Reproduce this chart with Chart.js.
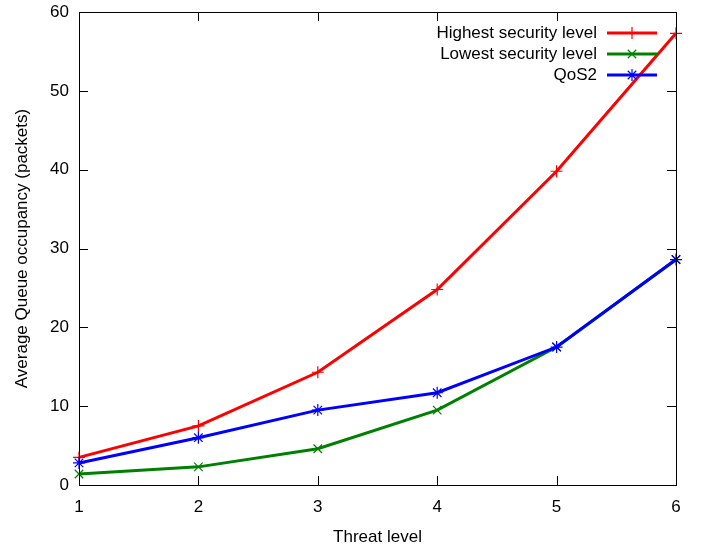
<!DOCTYPE html>
<html>
<head>
<meta charset="utf-8">
<script src="https://cdn.jsdelivr.net/npm/chart.js@4"></script>
<style>
  body { margin: 0; background: #fff; }
  #wrap { width: 702px; height: 548px; }
</style>
</head>
<body>
<div id="wrap"><canvas id="chart" width="702" height="548"></canvas></div>
<script>
// threat levels on the x axis
let threatLevels = [1, 2, 3, 4, 5, 6]
let highestLevel = [3.5, 7.5, 14.3, 24.8, 39.8, 57.3]
let lowestLevel = [1.4, 2.3, 4.6, 9.5, 17.5, 28.6]
let qos2 = [2.8, 6.0, 9.5, 11.7, 17.5, 28.6]
let yTicks = [0, 10, 20, 30, 40, 50, 60]

let fontName = "'Liberation Sans', Arial, sans-serif"
let fontSize = 17

function toPoints(xs, ys) {
    return xs.map((x, i) => ({ x: x, y: ys[i] }))
}

function makeSet(label, values, color, style, order) {
    return {
        label: label,
        data: toPoints(threatLevels, values),
        borderColor: color,
        backgroundColor: color,
        borderWidth: 3,
        pointStyle: style,
        pointRadius: 6,
        pointBorderWidth: 1.2,
        pointHoverRadius: 6,
        tension: 0,
        clip: false,
        order: order
    }
}

// gnuplot-like frame, inward ticks on all four sides, and the legend
let framePlugin = {
    id: 'frame',
    afterDraw(chart) {
        let ctx = chart.ctx
        let a = chart.chartArea
        let xs = chart.scales.x
        let ys = chart.scales.y
        let tl = 9
        ctx.save()
        ctx.strokeStyle = '#000'
        ctx.lineWidth = 1
        ctx.beginPath()
        for (let v of threatLevels) {
            let px = Math.round(xs.getPixelForValue(v)) + 0.5
            ctx.moveTo(px, a.bottom); ctx.lineTo(px, a.bottom - tl)
            ctx.moveTo(px, a.top); ctx.lineTo(px, a.top + tl)
        }
        for (let v of yTicks) {
            let py = Math.round(ys.getPixelForValue(v)) + 0.5
            ctx.moveTo(a.left, py); ctx.lineTo(a.left + tl, py)
            ctx.moveTo(a.right, py); ctx.lineTo(a.right - tl, py)
        }
        ctx.stroke()
        ctx.strokeRect(Math.round(a.left) + 0.5, Math.round(a.top) + 0.5,
            Math.round(a.right - a.left), Math.round(a.bottom - a.top))

        // legend
        ctx.font = fontSize + 'px ' + fontName
        ctx.textAlign = 'right'
        ctx.textBaseline = 'middle'
        let rowY = [33, 54, 75]
        chart.data.datasets.forEach((ds, i) => {
            let y = rowY[i]
            ctx.fillStyle = '#000'
            ctx.fillText(ds.label, 597, y)
            ctx.strokeStyle = ds.borderColor
            ctx.fillStyle = ds.borderColor
            ctx.lineWidth = 3
            ctx.beginPath()
            ctx.moveTo(607, y); ctx.lineTo(657, y)
            ctx.stroke()
            ctx.lineWidth = 1.2
            Chart.helpers.drawPoint(ctx, {
                pointStyle: ds.pointStyle, radius: 6, borderWidth: 1.2
            }, 632, y)
        })
        ctx.restore()
    }
}

new Chart(document.getElementById('chart'), {
    type: 'line',
    data: {
        datasets: [
            makeSet('Highest security level', highestLevel, 'rgb(255,0,0)', 'cross', 2),
            makeSet('Lowest security level', lowestLevel, 'rgb(0,128,0)', 'crossRot', 1),
            makeSet('QoS2', qos2, 'rgb(0,0,255)', 'star', 0)
        ]
    },
    options: {
        responsive: false,
        animation: false,
        layout: { padding: { top: 12, right: 26, left: 0, bottom: 0 } },
        plugins: {
            legend: { display: false },
            tooltip: { enabled: false }
        },
        scales: {
            x: {
                type: 'linear',
                min: 1,
                max: 6,
                afterFit(scale) {
                    scale.height = 63
                    scale.paddingLeft = 0
                    scale.paddingRight = 0
                },
                ticks: {
                    stepSize: 1,
                    color: '#000',
                    padding: 12,
                    font: { family: fontName, size: fontSize }
                },
                grid: { display: false, drawTicks: false },
                border: { display: false },
                title: {
                    display: true,
                    text: 'Threat level',
                    color: '#000',
                    font: { family: fontName, size: fontSize },
                    padding: { top: 0, bottom: 0 }
                }
            },
            y: {
                min: 0,
                max: 60,
                afterFit(scale) {
                    scale.width = 79
                    scale.paddingTop = 0
                    scale.paddingBottom = 0
                },
                ticks: {
                    stepSize: 10,
                    color: '#000',
                    padding: 10,
                    font: { family: fontName, size: fontSize }
                },
                grid: { display: false, drawTicks: false },
                border: { display: false },
                title: {
                    display: true,
                    text: 'Average Queue occupancy (packets)',
                    color: '#000',
                    font: { family: fontName, size: fontSize },
                    padding: { top: 12, bottom: 0 }
                }
            }
        }
    },
    plugins: [framePlugin]
})
</script>
</body>
</html>
